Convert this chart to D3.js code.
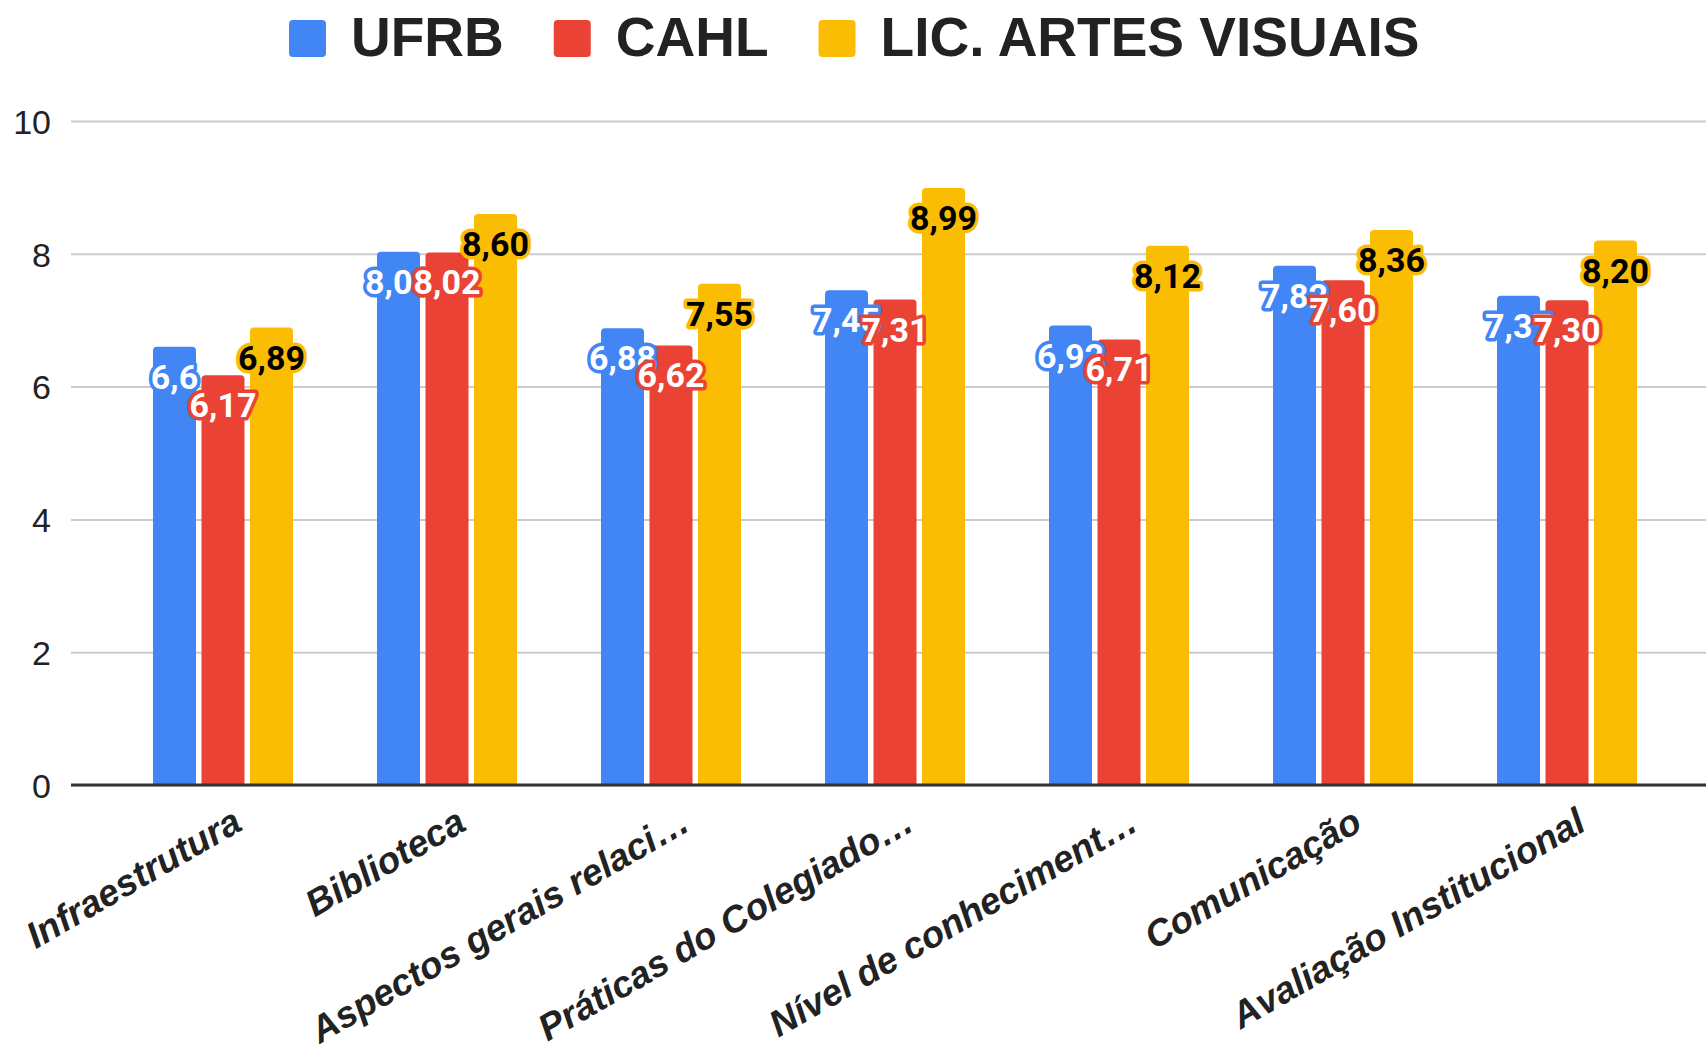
<!DOCTYPE html>
<html>
<head>
<meta charset="utf-8">
<script src="https://cdn.jsdelivr.net/npm/d3@7"></script>
<style>
  body { margin: 0; background: #fff; }
  svg { display: block; }
</style>
</head>
<body>
<div id="chart"></div>
<script>
var width = 1706,
    height = 1044;

// data
var categories = ["Infraestrutura", "Biblioteca", "Aspectos gerais relaci\u2026",
  "Pr\u00e1ticas do Colegiado\u2026", "N\u00edvel de conheciment\u2026",
  "Comunica\u00e7\u00e3o", "Avalia\u00e7\u00e3o Institucional"];
var seriesNames = ["UFRB", "CAHL", "LIC. ARTES VISUAIS"];
var ufrb = [6.6, 8.03, 6.88, 7.45, 6.92, 7.82, 7.37];
var cahl = [6.17, 8.02, 6.62, 7.31, 6.71, 7.60, 7.30];
var artes = [6.89, 8.60, 7.55, 8.99, 8.12, 8.36, 8.20];
var yTicks = [0, 2, 4, 6, 8, 10];

var colors = ["#4285F4", "#EA4335", "#FBBC04"];
var labelFill = ["#fff", "#fff", "#000"];

var values = [ufrb, cahl, artes];

var locale = d3.formatLocale({decimal: ",", thousands: ".", grouping: [3], currency: ["R$", ""]});
var fmts = [locale.format(".2~f"), locale.format(".2f"), locale.format(".2f")];

var svg = d3.select("#chart").append("svg")
  .attr("width", width)
  .attr("height", height);

var y = d3.scaleLinear()
  .domain([0, 10])
  .range([785, 121]);

var x = d3.scaleBand()
  .domain(categories)
  .range([71, 1719])
  .paddingInner(0.375)
  .paddingOuter(0.366);

var x1 = d3.scaleBand()
  .domain(seriesNames)
  .range([0, x.bandwidth()])
  .paddingInner(0.113);

// gridlines + y labels
var yAxis = d3.axisLeft(y)
  .tickValues(yTicks)
  .tickSize(-(width - 71))
  .tickPadding(20)
  .tickFormat(d3.format("d"));

var gy = svg.append("g")
  .attr("transform", "translate(71,0)")
  .call(yAxis);
gy.select(".domain").remove();
gy.selectAll(".tick line")
  .attr("stroke", "#ccc")
  .attr("stroke-width", 2);
gy.selectAll(".tick text")
  .attr("fill", "#222")
  .style("font-family", "'Liberation Sans', Arial, sans-serif")
  .style("font-size", "34px")
  .attr("dy", "0.36em");

// bars
function barPath(x0, y0, w, h, r){
  r = Math.min(r, h);
  return "M" + x0 + "," + (y0 + h) +
    "V" + (y0 + r) +
    "Q" + x0 + "," + y0 + " " + (x0 + r) + "," + y0 +
    "H" + (x0 + w - r) +
    "Q" + (x0 + w) + "," + y0 + " " + (x0 + w) + "," + (y0 + r) +
    "V" + (y0 + h) + "Z";
}

var groups = svg.append("g").selectAll("g.cat")
  .data(categories)
  .enter().append("g")
  .attr("class", "cat")
  .attr("transform", function(d){ return "translate(" + x(d) + ",0)" });

groups.selectAll("path")
  .data(function(d, i){
    return seriesNames.map(function(s, j){ return {s: s, j: j, v: values[j][i]} });
  })
  .enter().append("path")
  .attr("fill", function(d){ return colors[d.j] })
  .attr("d", function(d){
    return barPath(x1(d.s), y(d.v), x1.bandwidth(), y(0) - y(d.v), 4);
  });

// baseline
svg.append("line")
  .attr("x1", 71).attr("x2", width)
  .attr("y1", y(0)).attr("y2", y(0))
  .attr("stroke", "#333")
  .attr("stroke-width", 3);

// data labels, one series after the other
seriesNames.forEach(function(s, j){
  svg.append("g").selectAll("text")
    .data(values[j])
    .enter().append("text")
    .attr("x", function(d, i){ return x(categories[i]) + x1(s) + x1.bandwidth() / 2 })
    .attr("y", function(d){ return y(d) + 42 })
    .attr("text-anchor", "middle")
    .attr("fill", labelFill[j])
    .attr("stroke", colors[j])
    .attr("stroke-width", 7)
    .attr("stroke-linejoin", "round")
    .attr("paint-order", "stroke")
    .style("font-family", "Roboto, sans-serif")
    .style("font-weight", "bold")
    .style("font-size", "34px")
    .text(function(d){ return fmts[j](d) });
});

// category labels
svg.append("g").selectAll("text")
  .data(categories)
  .enter().append("text")
  .attr("transform", function(d){
    return "translate(" + (x(d) + x.bandwidth() / 2 + 21) + ",829) rotate(-30)";
  })
  .attr("text-anchor", "end")
  .attr("fill", "#222")
  .style("font-family", "'Liberation Sans', Arial, sans-serif")
  .style("font-weight", "bold")
  .style("font-style", "italic")
  .style("font-size", "37px")
  .text(function(d){ return d });

// legend
var legend = svg.append("g");
var lx = 289;
seriesNames.forEach(function(s, j){
  legend.append("rect")
    .attr("x", lx).attr("y", 20)
    .attr("width", 37).attr("height", 37)
    .attr("rx", 4)
    .attr("fill", colors[j]);
  var t = legend.append("text")
    .attr("x", lx + 62).attr("y", 56)
    .attr("fill", "#222")
    .style("font-family", "'Liberation Sans', Arial, sans-serif")
    .style("font-weight", "bold")
    .style("font-size", "55px")
    .text(s);
  lx += 62 + t.node().getComputedTextLength() + 50;
});
</script>
</body>
</html>
